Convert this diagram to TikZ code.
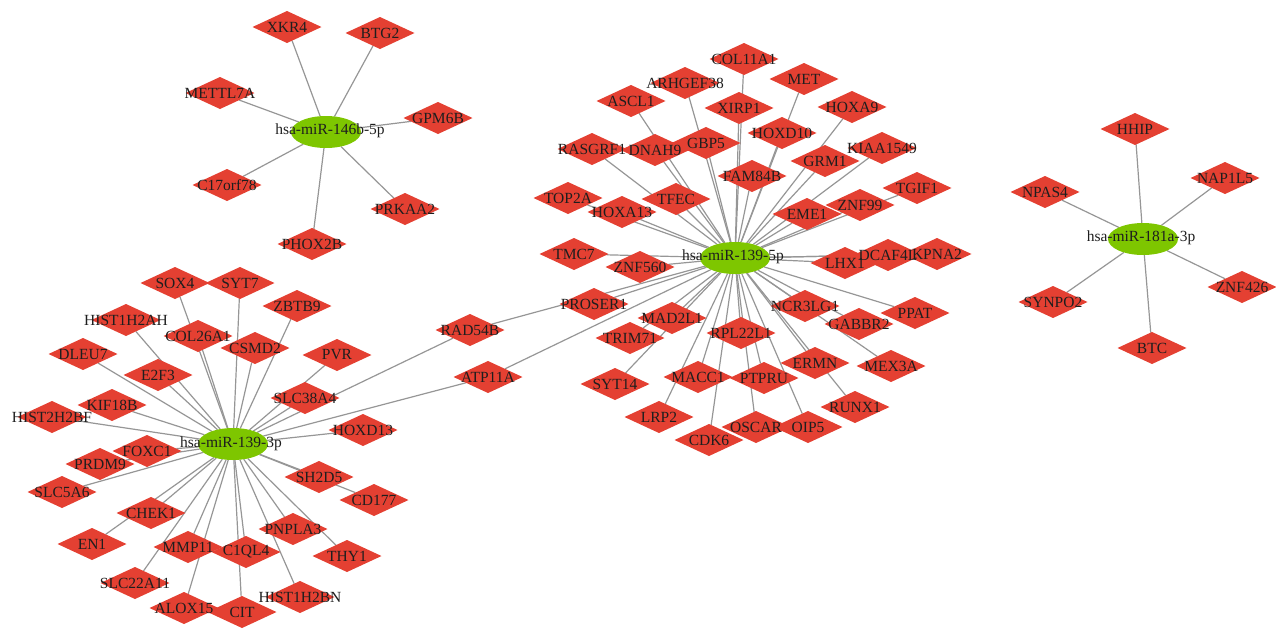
\documentclass[tikz,border=0pt]{standalone}
\usepackage{fontspec}
\setmainfont{Liberation Serif}
\usetikzlibrary{shapes.geometric}
\definecolor{genered}{RGB}{228,64,50}
\definecolor{mirgreen}{RGB}{126,198,0}
\definecolor{edgegray}{RGB}{150,150,150}
\definecolor{labelink}{RGB}{30,30,30}
\pgfdeclarelayer{edges}
\pgfdeclarelayer{labels}
\pgfsetlayers{edges,main,labels}
\tikzset{
  gene/.style={diamond, fill=genered, draw=none, minimum width=69pt,
    minimum height=32pt, inner sep=0pt, outer sep=0pt},
  mirna/.style={ellipse, fill=mirgreen, draw=none, minimum width=70pt,
    minimum height=32pt, inner sep=0pt, outer sep=0pt},
  gtext/.style={text=labelink, inner sep=0pt,
    font=\fontsize{15.5}{18}\selectfont},
  edge/.style={draw=edgegray, line width=1.2pt},
}
\begin{document}
\begin{tikzpicture}[x=1pt, y=-1pt]
\useasboundingbox (0,0) rectangle (1276,635);

% target genes (diamonds)
\foreach \n/\x/\y in {
  XKR4/287/27, BTG2/380/33, METTL7A/220/93, GPM6B/438/118,
  C17orf78/227/185, PRKAA2/405/209, PHOX2B/312/244,
  HHIP/1135/129, NAP1L5/1225/178, NPAS4/1045/192, ZNF426/1242/287,
  SYNPO2/1053/302, BTC/1152/348,
  COL11A1/744/59, ARHGEF38/685/83, MET/804/79, ASCL1/631/101,
  XIRP1/739/108, HOXA9/852/107, HOXD10/782/133, RASGRF1/592/149,
  DNAH9/655/150, GBP5/706/143, KIAA1549/882/148, GRM1/825/161,
  FAM84B/752/176, TGIF1/917/188, TOP2A/568/198, TFEC/676/199,
  HOXA13/622/212, ZNF99/860/205, EME1/807/214, TMC7/574/254,
  ZNF560/640/267, DCAF4L/888/255, LHX1/845/263, KPNA2/937/254,
  PROSER1/594/304, NCR3LG1/805/306, PPAT/915/313, MAD2L1/672/318,
  GABBR2/859/324, RPL22L1/741/333, TRIM71/630/338, ERMN/815/363,
  MEX3A/891/366, MACC1/698/377, PTPRU/764/378, SYT14/615/384,
  RUNX1/855/407, LRP2/659/417, OSCAR/756/427, OIP5/808/427,
  CDK6/709/440,
  RAD54B/470/330, ATP11A/488/377,
  SOX4/175/283, SYT7/240/283, ZBTB9/297/306, HIST1H2AH/126/320,
  COL26A1/198/336, CSMD2/255/348, DLEU7/83/354, PVR/337/355,
  E2F3/158/375, SLC38A4/305/398, KIF18B/112/405, HIST2H2BF/52/417,
  HOXD13/363/430, FOXC1/147/451, PRDM9/100/464, SLC5A6/62/492,
  SH2D5/319/477, CD177/374/500, CHEK1/151/513, EN1/92/544,
  PNPLA3/293/529, MMP11/188/547, C1QL4/246/552, THY1/347/556,
  SLC22A11/135/583, HIST1H2BN/300/597, ALOX15/184/608, CIT/242/612}
  \node[gene] (\n) at (\x,\y) {};

% microRNA hubs (ellipses)
\node[mirna] (m146) at (326,132) {};
\node[mirna] (m139f) at (735,258) {};
\node[mirna] (m139t) at (233,444) {};
\node[mirna] (m181) at (1143,239) {};

% interactions
\begin{pgfonlayer}{edges}
  \foreach \n in {XKR4, BTG2, METTL7A, GPM6B, C17orf78, PRKAA2, PHOX2B}
    \draw[edge] (m146) -- (\n);
  \foreach \n in {HHIP, NAP1L5, NPAS4, ZNF426, SYNPO2, BTC}
    \draw[edge] (m181) -- (\n);
  \foreach \n in {COL11A1, ARHGEF38, MET, ASCL1, XIRP1, HOXA9, HOXD10,
      RASGRF1, DNAH9, GBP5, KIAA1549, GRM1, FAM84B, TGIF1, TOP2A, TFEC,
      HOXA13, ZNF99, EME1, TMC7, ZNF560, LHX1, DCAF4L, KPNA2, PROSER1,
      NCR3LG1, PPAT, MAD2L1, GABBR2, RPL22L1, TRIM71, ERMN, MEX3A, MACC1,
      PTPRU, SYT14, RUNX1, LRP2, OSCAR, OIP5, CDK6, RAD54B, ATP11A}
    \draw[edge] (m139f) -- (\n);
  \foreach \n in {SOX4, SYT7, ZBTB9, HIST1H2AH, COL26A1, CSMD2, DLEU7, PVR,
      E2F3, SLC38A4, KIF18B, HIST2H2BF, HOXD13, FOXC1, PRDM9, SLC5A6,
      SH2D5, CD177, CHEK1, EN1, PNPLA3, MMP11, C1QL4, THY1, SLC22A11,
      HIST1H2BN, ALOX15, CIT, RAD54B, ATP11A}
    \draw[edge] (m139t) -- (\n);
\end{pgfonlayer}

% names, set above every shape
\begin{pgfonlayer}{labels}
  \foreach \n in {XKR4, BTG2, METTL7A, GPM6B, C17orf78, PRKAA2, PHOX2B,
      HHIP, NAP1L5, NPAS4, ZNF426, SYNPO2, BTC,
      COL11A1, ARHGEF38, MET, ASCL1, XIRP1, HOXA9, HOXD10, RASGRF1, DNAH9,
      GBP5, KIAA1549, GRM1, FAM84B, TGIF1, TOP2A, TFEC, HOXA13, ZNF99,
      EME1, TMC7, ZNF560, DCAF4L, LHX1, KPNA2, PROSER1, NCR3LG1, PPAT,
      MAD2L1, GABBR2, RPL22L1, TRIM71, ERMN, MEX3A, MACC1, PTPRU, SYT14,
      RUNX1, LRP2, OSCAR, OIP5, CDK6, RAD54B, ATP11A,
      SOX4, SYT7, ZBTB9, HIST1H2AH, COL26A1, CSMD2, DLEU7, PVR, E2F3,
      SLC38A4, KIF18B, HIST2H2BF, HOXD13, FOXC1, PRDM9, SLC5A6, SH2D5,
      CD177, CHEK1, EN1, PNPLA3, MMP11, C1QL4, THY1, SLC22A11, HIST1H2BN,
      ALOX15, CIT}
    \node[gtext] at (\n) {\n};
  \node[gtext] at ([xshift=4pt,yshift=1pt]m146.center) {hsa-miR-146b-5p};
  \node[gtext] at ([xshift=-2pt,yshift=1pt]m139f.center) {hsa-miR-139-5p};
  \node[gtext] at ([xshift=-2pt,yshift=0pt]m139t.center) {hsa-miR-139-3p};
  \node[gtext] at ([xshift=-2pt,yshift=1pt]m181.center) {hsa-miR-181a-3p};
\end{pgfonlayer}
\end{tikzpicture}
\end{document}
